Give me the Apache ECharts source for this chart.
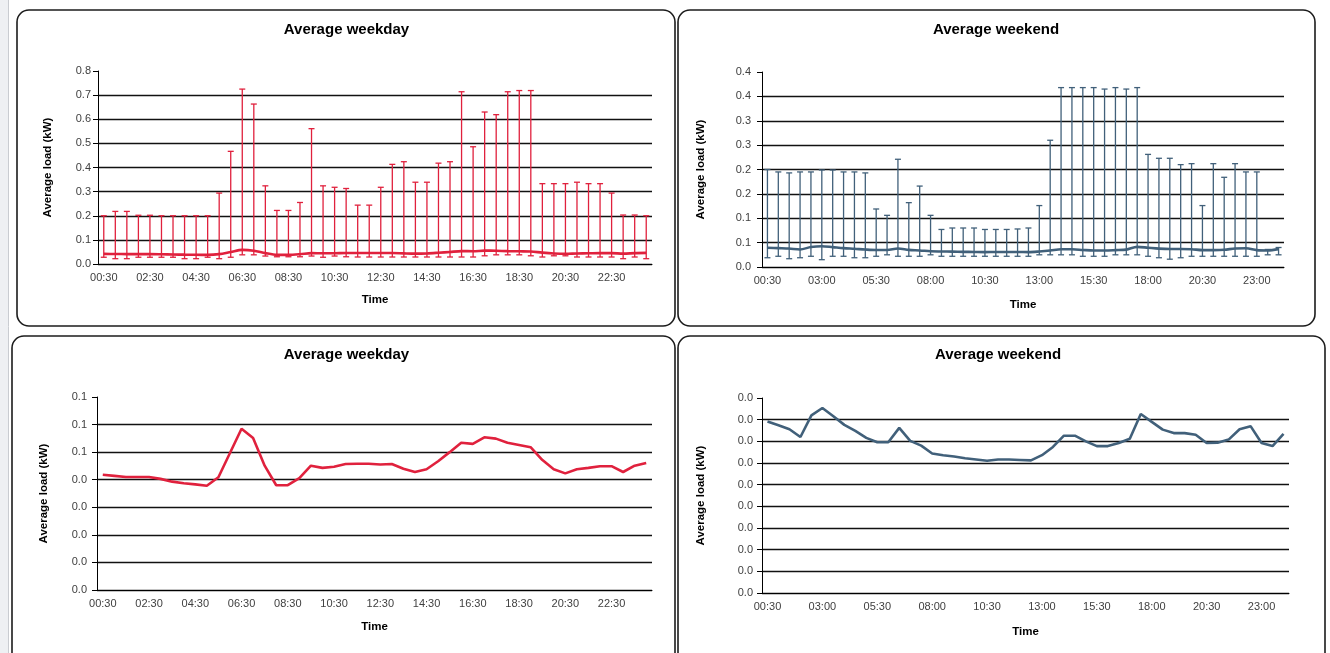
<!DOCTYPE html>
<html>
<head>
<meta charset="utf-8">
<title>Average load profiles</title>
<script src="https://cdn.jsdelivr.net/npm/echarts@6/dist/echarts.min.js"></script>
<style>
  html, body { margin: 0; padding: 0; background: #fff; }
  #chart { width: 1330px; height: 653px; }
</style>
</head>
<body>
<div id="chart"></div>
<script>
// Half-hour time slots (end of each interval)
const times = ['00:30','01:00','01:30','02:00','02:30','03:00','03:30','04:00','04:30','05:00','05:30','06:00',
  '06:30','07:00','07:30','08:00','08:30','09:00','09:30','10:00','10:30','11:00','11:30','12:00',
  '12:30','13:00','13:30','14:00','14:30','15:00','15:30','16:00','16:30','17:00','17:30','18:00',
  '18:30','19:00','19:30','20:00','20:30','21:00','21:30','22:00','22:30','23:00','23:30','24:00'];

// Weekday load (kW): mean, lower and upper bounds
const weekdayMean = [0.0418,0.0414,0.0410,0.0410,0.0410,0.0403,0.0393,0.0387,0.0383,0.0378,
  0.0409,0.0497,0.0585,0.0551,0.0451,0.0380,0.0380,0.0406,0.0451,0.0443,
  0.0447,0.0457,0.0458,0.0458,0.0455,0.0457,0.0440,0.0428,0.0438,0.0467,
  0.0500,0.0534,0.0530,0.0554,0.0549,0.0534,0.0526,0.0518,0.0472,0.0438,
  0.0423,0.0438,0.0443,0.0449,0.0449,0.0428,0.0451,0.0461];
const weekdayLow = [0.028,0.022,0.022,0.028,0.028,0.028,0.028,0.022,0.022,0.028,
  0.022,0.028,0.038,0.038,0.033,0.030,0.030,0.030,0.033,0.028,
  0.033,0.030,0.029,0.029,0.029,0.029,0.029,0.029,0.029,0.029,
  0.029,0.029,0.029,0.034,0.038,0.038,0.038,0.034,0.029,0.034,
  0.034,0.029,0.029,0.029,0.029,0.022,0.029,0.022];
const weekdayHigh = [0.200,0.218,0.218,0.202,0.202,0.200,0.200,0.200,0.200,0.200,
  0.294,0.467,0.725,0.663,0.324,0.222,0.222,0.255,0.561,0.324,
  0.318,0.313,0.244,0.244,0.318,0.413,0.424,0.339,0.339,0.418,
  0.424,0.714,0.486,0.630,0.619,0.714,0.719,0.719,0.333,0.333,
  0.333,0.339,0.333,0.333,0.294,0.203,0.203,0.200];

// Weekend load (kW): mean, lower and upper bounds
const weekendMean = [0.0396,0.0387,0.0378,0.0360,0.0410,0.0427,0.0408,0.0388,0.0374,0.0358,
  0.0348,0.0348,0.0381,0.0351,0.0340,0.0322,0.0318,0.0315,0.0311,0.0308,
  0.0305,0.0308,0.0308,0.0307,0.0306,0.0318,0.0337,0.0363,0.0363,0.0350,
  0.0339,0.0339,0.0346,0.0356,0.0413,0.0395,0.0377,0.0369,0.0369,0.0365,
  0.0346,0.0347,0.0354,0.0378,0.0385,0.0346,0.0339,0.0367];
const weekendLow = [0.019,0.022,0.017,0.019,0.022,0.015,0.022,0.022,0.019,0.019,
  0.022,0.025,0.022,0.022,0.022,0.025,0.022,0.022,0.022,0.022,
  0.022,0.022,0.022,0.022,0.022,0.025,0.025,0.025,0.025,0.022,
  0.022,0.022,0.025,0.025,0.025,0.022,0.019,0.016,0.019,0.022,
  0.022,0.022,0.022,0.022,0.022,0.022,0.025,0.025];
const weekendHigh = [0.200,0.195,0.193,0.195,0.195,0.199,0.199,0.195,0.195,0.193,
  0.119,0.106,0.221,0.132,0.166,0.106,0.077,0.080,0.080,0.080,
  0.077,0.077,0.077,0.078,0.080,0.126,0.260,0.368,0.368,0.368,
  0.368,0.365,0.368,0.365,0.368,0.231,0.223,0.223,0.210,0.212,
  0.126,0.212,0.184,0.212,0.195,0.195,0.036,0.040];

// Value-axis tick labels (one decimal place, as printed on each axis)
const weekdayBarTicks = ['0.0','0.1','0.2','0.3','0.4','0.5','0.6','0.7','0.8'];
const weekendBarTicks = ['0.0','0.1','0.1','0.2','0.2','0.3','0.3','0.4','0.4'];
const weekdayLineTicks = ['0.0','0.0','0.0','0.0','0.0','0.1','0.1','0.1'];
const weekendLineTicks = ['0.0','0.0','0.0','0.0','0.0','0.0','0.0','0.0','0.0','0.0'];

const RED = '#E0213D';
const SLATE = '#41607A';
const FONT = '"Liberation Sans", Arial, sans-serif';

const chart = echarts.init(document.getElementById('chart'), null, { renderer: 'canvas' });

function xAxisFor(gridIndex, labelEvery, nameGap) {
  return {
    type: 'category', gridIndex, data: times, boundaryGap: true,
    axisLine: { lineStyle: { color: '#000', width: 1 } },
    axisTick: { interval: 0, length: 4, lineStyle: { color: '#000', width: 1 } },
    axisLabel: { interval: labelEvery - 1, color: '#404040', fontSize: 11, fontFamily: FONT, margin: 8 },
    splitLine: { show: false },
    name: 'Time', nameLocation: 'middle', nameGap,
    nameTextStyle: { color: '#000', fontSize: 11.5, fontWeight: 'bold', fontFamily: FONT }
  };
}

function yAxisFor(gridIndex, max, interval, ticks, labelMargin, nameGap) {
  // a gridline on every tick except the top one
  const gridColors = ticks.map((t, i) => i === ticks.length - 1 ? 'rgba(0,0,0,0)' : '#111');
  return {
    type: 'value', gridIndex, min: 0, max, interval,
    axisLine: { show: true, lineStyle: { color: '#000', width: 1 } },
    axisTick: { show: true, length: 5, lineStyle: { color: '#000', width: 1 } },
    axisLabel: {
      color: '#404040', fontSize: 11, fontFamily: FONT, margin: labelMargin,
      formatter: v => ticks[Math.round(v / interval)]
    },
    splitLine: { show: true, lineStyle: { color: gridColors, width: 1.3 } },
    name: 'Average load (kW)', nameLocation: 'middle', nameGap,
    nameTextStyle: { color: '#000', fontSize: 11.5, fontWeight: 'bold', fontFamily: FONT }
  };
}

// Vertical range bar with caps at both ends
function rangeBar(params, api) {
  const i = api.value(0);
  const lo = api.coord([i, api.value(1)]);
  const hi = api.coord([i, api.value(2)]);
  const cap = 3;
  const style = { stroke: api.visual('color'), lineWidth: 1.3 };
  return {
    type: 'group',
    children: [
      { type: 'line', shape: { x1: hi[0], y1: hi[1], x2: lo[0], y2: lo[1] }, style },
      { type: 'line', shape: { x1: hi[0] - cap, y1: hi[1], x2: hi[0] + cap, y2: hi[1] }, style },
      { type: 'line', shape: { x1: lo[0] - cap, y1: lo[1], x2: lo[0] + cap, y2: lo[1] }, style }
    ]
  };
}

function ranges(low, high) {
  return high.map((h, i) => [i, low[i], h]);
}

// Chart frames
const panels = [
  { x: 17, y: 10, w: 658, h: 316 },
  { x: 678, y: 10, w: 637, h: 316 },
  { x: 12, y: 336, w: 663, h: 330 },
  { x: 678, y: 336, w: 647, h: 330 }
];
const titles = [
  { text: 'Average weekday', x: 346.5, y: 30 },
  { text: 'Average weekend', x: 996, y: 30 },
  { text: 'Average weekday', x: 346.5, y: 355 },
  { text: 'Average weekend', x: 998, y: 355 }
];

const graphic = [
  { type: 'rect', z: -10, shape: { x: 0, y: 0, width: 8, height: 653 }, style: { fill: '#eef0f3' } },
  { type: 'line', z: -10, shape: { x1: 8.5, y1: 0, x2: 8.5, y2: 653 }, style: { stroke: '#c9ccd1', lineWidth: 1 } }
];
panels.forEach(p => graphic.push({
  type: 'rect', z: -5,
  shape: { x: p.x, y: p.y, width: p.w, height: p.h, r: 12 },
  style: { fill: '#fff', stroke: '#1c1c1c', lineWidth: 1.6 }
}));
titles.forEach(t => graphic.push({
  type: 'text', z: 5, x: t.x, y: t.y,
  style: { text: t.text, fill: '#000', font: 'bold 15px ' + FONT, textAlign: 'center', textVerticalAlign: 'middle' }
}));

chart.setOption({
  animation: false,
  backgroundColor: '#fff',
  graphic,
  grid: [
    { left: 98, top: 71, width: 554, height: 193 },
    { left: 762, top: 72, width: 522, height: 195 },
    { left: 97, top: 397, width: 555, height: 193 },
    { left: 762, top: 398, width: 527, height: 195 }
  ],
  xAxis: [
    xAxisFor(0, 4, 30),
    xAxisFor(1, 5, 32),
    xAxisFor(2, 4, 31),
    xAxisFor(3, 5, 33)
  ],
  yAxis: [
    yAxisFor(0, 0.8, 0.1, weekdayBarTicks, 7, 44),
    yAxisFor(1, 0.4, 0.05, weekendBarTicks, 11, 55),
    yAxisFor(2, 0.07, 0.01, weekdayLineTicks, 10, 47),
    yAxisFor(3, 0.045, 0.005, weekendLineTicks, 9, 55)
  ],
  series: [
    {
      type: 'custom', name: 'Weekday range', xAxisIndex: 0, yAxisIndex: 0,
      renderItem: rangeBar, data: ranges(weekdayLow, weekdayHigh),
      encode: { x: 0, y: [1, 2] }, itemStyle: { color: RED }, z: 2
    },
    {
      type: 'line', name: 'Weekday mean', xAxisIndex: 0, yAxisIndex: 0,
      data: weekdayMean, symbol: 'none', smooth: 0.3,
      lineStyle: { color: RED, width: 2.6 }, z: 3
    },
    {
      type: 'custom', name: 'Weekend range', xAxisIndex: 1, yAxisIndex: 1,
      renderItem: rangeBar, data: ranges(weekendLow, weekendHigh),
      encode: { x: 0, y: [1, 2] }, itemStyle: { color: SLATE }, z: 2
    },
    {
      type: 'line', name: 'Weekend mean', xAxisIndex: 1, yAxisIndex: 1,
      data: weekendMean, symbol: 'none', smooth: 0.3,
      lineStyle: { color: SLATE, width: 2.6 }, z: 3
    },
    {
      type: 'line', name: 'Weekday mean', xAxisIndex: 2, yAxisIndex: 2,
      data: weekdayMean, symbol: 'none',
      lineStyle: { color: RED, width: 2.6 }, z: 3
    },
    {
      type: 'line', name: 'Weekend mean', xAxisIndex: 3, yAxisIndex: 3,
      data: weekendMean, symbol: 'none',
      lineStyle: { color: SLATE, width: 2.6 }, z: 3
    }
  ]
});
</script>
</body>
</html>
